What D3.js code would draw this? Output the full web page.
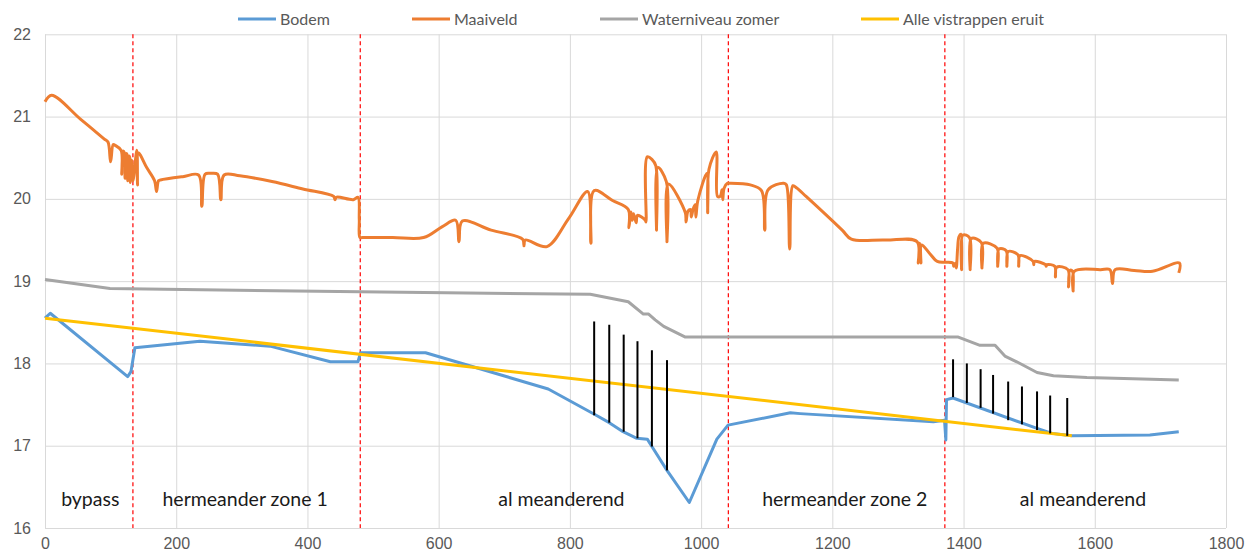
<!DOCTYPE html>
<html>
<head>
<meta charset="utf-8">
<script src="https://cdn.jsdelivr.net/npm/d3@7"></script>
<style>
  body { margin: 0; background: #fff; }
  svg { font-family: Lato, "Open Sans", sans-serif; }
</style>
</head>
<body>
<svg width="1250" height="558"></svg>
<script>
// series: [afstand, hoogte]
const bodem = [
  [0, 18.55], [8, 18.61], [126, 17.84], [131, 17.9], [137, 18.19], [236, 18.27],
  [343, 18.21], [435, 18.02], [477, 18.02], [481, 18.13], [580, 18.13], [767, 17.69],
  [838, 17.38], [860, 17.28], [881, 17.17], [902, 17.09], [918, 17.08], [925, 16.99],
  [948, 16.70], [982, 16.31], [1024, 17.08], [1041, 17.25], [1136, 17.40], [1151, 17.39],
  [1354, 17.29], [1371, 17.31], [1373, 17.07], [1374, 17.56], [1384, 17.58],
  [1512, 17.21], [1535, 17.15], [1565, 17.12], [1684, 17.13], [1728, 17.17]
];

const maaiveld = [
  [0, 21.18], [10, 21.26], [54, 20.97], [90, 20.73], [96, 20.69], [100, 20.45], [104, 20.66], [107, 20.65],
  [116, 20.59], [117, 20.30], [119, 20.58], [121, 20.56], [122, 20.25], [124, 20.55],
  [125, 20.54], [126, 20.22], [128, 20.52], [129, 20.51], [130, 20.2], [132, 20.47],
  [134, 20.22], [140, 20.59], [141, 20.17], [142, 20.56], [155, 20.38], [167, 20.22], [170, 20.09],
  [173, 20.22], [176, 20.23], [210, 20.27], [234, 20.29], [239, 19.91], [244, 20.30], [252, 20.31],
  [263, 20.30], [268, 19.99], [273, 20.29], [297, 20.28], [346, 20.21], [393, 20.12], [440, 20.03],
  [442, 19.99], [444, 20.02], [470, 19.99], [477, 20.02], [479, 19.75], [480, 19.53], [484, 19.53],
  [530, 19.53], [577, 19.53], [605, 19.66], [626, 19.74], [631, 19.48], [636, 19.73],
  [680, 19.62], [728, 19.51], [730, 19.43], [732, 19.50],
  [765, 19.42], [798, 19.76], [827, 20.09], [832, 19.46], [837, 20.10], [865, 19.98], [889, 19.87], [890, 19.65],
  [893, 19.84], [895, 19.74], [897, 19.82], [901, 19.71], [903, 19.80], [915, 19.74],
  [916, 19.72], [918, 20.51], [925, 20.48], [931, 20.40], [932, 19.62], [934, 20.38],
  [947, 20.21], [948, 19.48], [950, 20.18], [976, 19.83], [977, 19.72], [980, 19.85],
  [984, 19.87], [985, 19.78], [988, 19.88], [991, 19.93], [992, 19.78], [995, 19.98],
  [1009, 20.31], [1010, 19.83], [1012, 20.36], [1023, 20.57], [1025, 20.03], [1029, 20.03],
  [1032, 20.11], [1033, 19.99], [1035, 20.13], [1040, 20.19], [1042, 20.19], [1075, 20.17],
  [1092, 20.10], [1097, 19.62], [1102, 20.11], [1126, 20.19], [1130, 20.17], [1135, 19.39],
  [1140, 20.16], [1146, 20.13], [1160, 20.03], [1215, 19.62], [1229, 19.51], [1280, 19.50],
  [1329, 19.48], [1331, 19.22], [1333, 19.46],
  [1335, 19.22], [1336, 19.44], [1348, 19.34], [1360, 19.24], [1372, 19.23], [1384, 19.22], [1385, 19.18],
  [1388, 19.22], [1389, 19.16], [1391, 19.40], [1393, 19.54], [1396, 19.57], [1397, 19.14],
  [1399, 19.56], [1409, 19.53], [1410, 19.14], [1412, 19.52], [1427, 19.47], [1428, 19.16],
  [1430, 19.46], [1451, 19.40], [1452, 19.18], [1454, 19.39], [1465, 19.37], [1466, 19.18],
  [1468, 19.36], [1483, 19.32], [1484, 19.18], [1486, 19.31], [1506, 19.24], [1507, 19.20],
  [1508, 19.24], [1525, 19.20], [1526, 19.18], [1527, 19.20], [1539, 19.18], [1540, 19.05],
  [1542, 19.17], [1559, 19.14], [1560, 18.93], [1562, 19.13], [1566, 19.12], [1567, 18.88],
  [1569, 19.12], [1609, 19.14], [1623, 19.14], [1627, 18.97], [1631, 19.14], [1660, 19.13], [1688, 19.12],
  [1729, 19.22], [1728, 19.10]
];

const waterniveau = [
  [0, 19.02], [99, 18.91], [480, 18.87], [831, 18.84], [889, 18.75], [912, 18.60],
  [920, 18.60], [930, 18.53], [943, 18.45], [976, 18.32], [1392, 18.32], [1425, 18.22],
  [1448, 18.22], [1463, 18.09], [1481, 18.02], [1512, 17.89], [1537, 17.85], [1588, 17.83],
  [1728, 17.80]
];

const vistrappen = [[0, 18.55], [1565, 17.12]];

// vistrappen: [afstand, boven, onder]
const trappen = [
  [837, 18.51, 17.37], [860, 18.47, 17.28], [882, 18.35, 17.17], [903, 18.27, 17.09],
  [925, 18.16, 16.99], [948, 18.04, 16.70],
  [1384, 18.05, 17.59], [1405, 18.00, 17.52], [1426, 17.93, 17.46], [1445, 17.86, 17.39],
  [1468, 17.78, 17.31], [1489, 17.72, 17.26], [1512, 17.66, 17.19], [1532, 17.61, 17.15],
  [1558, 17.58, 17.12]
];

const zoneGrenzen = [134, 480.5, 1041.5, 1371.5];
const zoneNamen = ["bypass", "hermeander zone 1", "al meanderend", "hermeander zone 2", "al meanderend"];
const zoneMidden = [69, 305, 787, 1219, 1582];

const xTicks = [0, 200, 400, 600, 800, 1000, 1200, 1400, 1600, 1800];
const yTicks = [16, 17, 18, 19, 20, 21, 22];

const legendNamen = ["Bodem", "Maaiveld", "Waterniveau zomer", "Alle vistrappen eruit"];
const kleuren = ["#5B9BD5", "#ED7D31", "#A5A5A5", "#FFC000"];

const svg = d3.select("svg");
const x = d3.scaleLinear().domain([0, 1800]).range([45, 1226]);
const y = d3.scaleLinear().domain([16, 22]).range([528, 34.3]);

// gridlines
svg.append("g")
  .attr("transform", "translate(0,528)")
  .call(d3.axisBottom(x).tickValues(xTicks).tickSize(-(528 - 34.3)).tickFormat(""))
  .call(g => g.select(".domain").remove())
  .call(g => g.selectAll("line").attr("stroke", "#D9D9D9"));
svg.append("g")
  .attr("transform", "translate(45,0)")
  .call(d3.axisLeft(y).tickValues(yTicks).tickSize(-(1226 - 45)).tickFormat(""))
  .call(g => g.select(".domain").remove())
  .call(g => g.selectAll("line").attr("stroke", "#D9D9D9"));

// tick labels
const xAxisG = svg.append("g")
  .attr("transform", "translate(0,528)")
  .call(d3.axisBottom(x).tickValues(xTicks).tickSize(0).tickPadding(10).tickFormat(d3.format("d")));
xAxisG.select(".domain").remove();
xAxisG.selectAll("text").attr("fill", "#595959").style("font-size", "16px").attr("dy", "0.71em");

const yAxisG = svg.append("g")
  .attr("transform", "translate(45,0)")
  .call(d3.axisLeft(y).tickValues(yTicks).tickSize(0).tickPadding(14).tickFormat(d3.format("d")));
yAxisG.select(".domain").remove();
yAxisG.selectAll("text").attr("fill", "#595959").style("font-size", "16px");

// zone borders
svg.selectAll(".grens")
  .data(zoneGrenzen)
  .enter()
  .append("line")
  .attr("x1", d => x(d)).attr("x2", d => x(d))
  .attr("y1", 34.3).attr("y2", 528)
  .attr("stroke", "#FF0000").attr("stroke-width", 1.2)
  .attr("stroke-dasharray", "4,3");

const line = d3.line().x(d => x(d[0])).y(d => y(d[1]));
const smooth = d3.line().x(d => x(d[0])).y(d => y(d[1])).curve(d3.curveCatmullRom.alpha(0.5));

svg.append("path").datum(waterniveau).attr("d", line)
  .attr("fill", "none").attr("stroke", kleuren[2]).attr("stroke-width", 3).attr("stroke-linejoin", "round");
svg.append("path").datum(bodem).attr("d", line)
  .attr("fill", "none").attr("stroke", kleuren[0]).attr("stroke-width", 3).attr("stroke-linejoin", "round");
svg.append("path").datum(maaiveld).attr("d", smooth)
  .attr("fill", "none").attr("stroke", kleuren[1]).attr("stroke-width", 3).attr("stroke-linejoin", "round");
svg.append("path").datum(vistrappen).attr("d", line)
  .attr("fill", "none").attr("stroke", kleuren[3]).attr("stroke-width", 3);

svg.selectAll(".trap")
  .data(trappen)
  .enter()
  .append("line")
  .attr("x1", d => x(d[0])).attr("x2", d => x(d[0]))
  .attr("y1", d => y(d[1])).attr("y2", d => y(d[2]))
  .attr("stroke", "#000").attr("stroke-width", 2);

// zone labels
svg.selectAll(".zone")
  .data(zoneNamen)
  .enter()
  .append("text")
  .attr("x", (d, i) => x(zoneMidden[i]))
  .attr("y", 506)
  .attr("text-anchor", "middle")
  .attr("fill", "#1a1a1a")
  .style("font-size", "19.5px")
  .text(d => d);

// legend
const legendX = [238, 412, 600, 861];
const legend = svg.selectAll(".legend")
  .data(legendNamen)
  .enter()
  .append("g")
  .attr("transform", (d, i) => `translate(${legendX[i]},19)`);
legend.append("line")
  .attr("x1", 0).attr("x2", 38)
  .attr("stroke", (d, i) => kleuren[i]).attr("stroke-width", 3);
legend.append("text")
  .attr("x", 42).attr("dy", "0.35em")
  .attr("fill", "#595959")
  .style("font-size", "16px")
  .text(d => d);
</script>
</body>
</html>
